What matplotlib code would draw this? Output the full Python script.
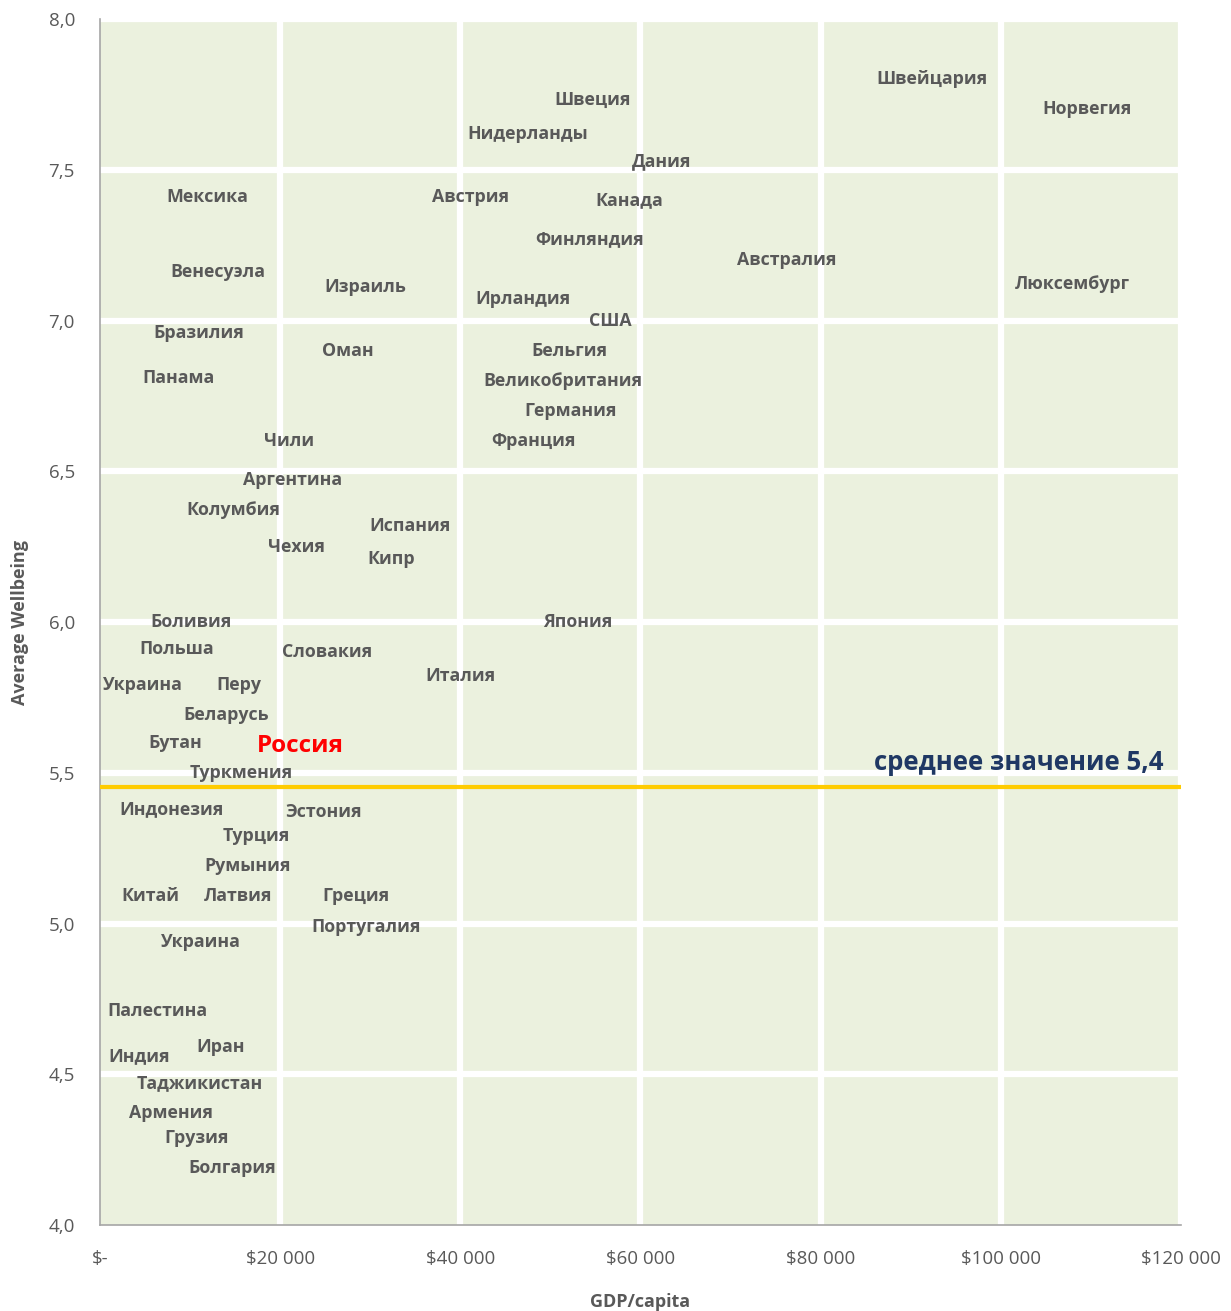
import matplotlib.pyplot as plt
from matplotlib.ticker import FuncFormatter

# GDP per capita (thousands of $) and average wellbeing
countries = ["Швейцария", "Норвегия", "Швеция", "Нидерланды", "Дания", "Мексика",
             "Австрия", "Канада", "Финляндия", "Австралия", "Венесуэла", "Израиль",
             "Ирландия", "Люксембург", "США", "Бразилия", "Оман", "Бельгия", "Панама",
             "Великобритания", "Германия", "Чили", "Франция", "Аргентина", "Колумбия",
             "Испания", "Чехия", "Кипр", "Боливия", "Япония", "Польша", "Словакия",
             "Италия", "Украина", "Перу", "Беларусь", "Бутан", "Россия", "Туркмения",
             "Индонезия", "Эстония", "Турция", "Румыния", "Китай", "Латвия", "Греция",
             "Португалия", "Украина", "Палестина", "Иран", "Индия", "Таджикистан",
             "Армения", "Грузия", "Болгария"]
gdp = [92.4, 109.6, 54.7, 47.5, 62.3, 11.9,
       41.1, 58.7, 54.4, 76.2, 13.1, 29.4,
       47.0, 107.9, 56.7, 11.0, 27.5, 52.1, 8.7,
       51.4, 52.2, 21.0, 48.1, 21.4, 14.8,
       34.4, 21.8, 32.3, 10.1, 53.1, 8.5, 25.2,
       40.0, 4.8, 15.4, 14.0, 8.4, 22.2, 15.7,
       7.9, 24.8, 17.4, 16.4, 5.6, 15.3, 28.4,
       29.6, 11.2, 6.4, 13.4, 4.4, 11.1,
       7.9, 10.7, 14.7]
wellbeing = [7.80, 7.70, 7.73, 7.62, 7.53, 7.41,
             7.41, 7.40, 7.27, 7.20, 7.16, 7.11,
             7.07, 7.12, 7.00, 6.96, 6.90, 6.90, 6.81,
             6.80, 6.70, 6.60, 6.60, 6.47, 6.37,
             6.32, 6.25, 6.21, 6.00, 6.00, 5.91, 5.90,
             5.82, 5.79, 5.79, 5.69, 5.60, 5.59, 5.50,
             5.38, 5.37, 5.29, 5.19, 5.09, 5.09, 5.09,
             4.99, 4.94, 4.71, 4.59, 4.56, 4.47,
             4.37, 4.29, 4.19]
mean_value = 5.453
mean_label = "среднее значение 5,4"

plt.rcParams['font.family'] = ['Open Sans', 'DejaVu Sans']

fig = plt.figure(figsize=(12.31, 13.11), dpi=100)
ax = fig.add_axes([0.0812, 0.0656, 0.8782, 0.9199])
ax.set_facecolor('#EBF1DE')

for name, x, y in zip(countries, gdp, wellbeing):
    if name == "Россия":
        ax.text(x * 1000, y, name, color='#FF0000', fontsize=17.5, fontweight='bold',
                ha='center', va='center')
    else:
        ax.text(x * 1000, y, name, color='#595959', fontsize=12.8, fontweight='bold',
                ha='center', va='center')

ax.axhline(mean_value, color='#FFCC00', lw=3, zorder=3)
ax.text(118000, mean_value + 0.08, mean_label, color='#1F3864', fontsize=18.5,
        fontweight='bold', ha='right', va='center')

ax.set_xlim(0, 120000)
ax.set_ylim(4.0, 8.0)
ax.set_xticks(range(0, 120001, 20000))
ax.set_yticks([4.0, 4.5, 5.0, 5.5, 6.0, 6.5, 7.0, 7.5, 8.0])


def money(v, pos):
    if v == 0:
        return "$-"
    return "$" + f"{int(v):,}".replace(",", " ")


ax.xaxis.set_major_formatter(FuncFormatter(money))
ax.yaxis.set_major_formatter(FuncFormatter(lambda v, p: f"{v:.1f}".replace(".", ",")))
ax.grid(True, color='white', lw=4.5)
ax.set_axisbelow(True)
# no white line along the axes themselves
ax.get_xgridlines()[0].set_visible(False)
ax.get_ygridlines()[0].set_visible(False)
ax.tick_params(length=0, labelsize=13.5, labelcolor='#595959', pad=18)

for side in ['top', 'right']:
    ax.spines[side].set_visible(False)
for side in ['left', 'bottom']:
    ax.spines[side].set_color('#A6A6A6')
    ax.spines[side].set_linewidth(1.2)

ax.set_xlabel("GDP/capita", fontsize=13, fontweight='bold', color='#595959', labelpad=18)
ax.set_ylabel("Average Wellbeing", fontsize=13, fontweight='bold', color='#595959', labelpad=14)

fig.savefig("out.png", dpi=100)
